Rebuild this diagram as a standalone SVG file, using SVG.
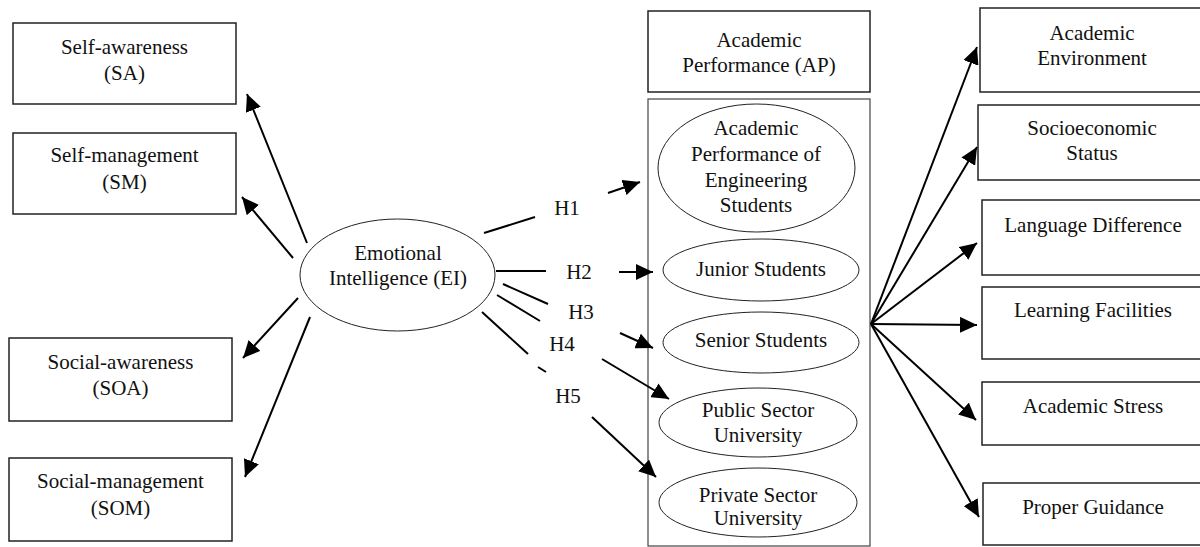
<svg xmlns="http://www.w3.org/2000/svg" width="1200" height="547" viewBox="0 0 1200 547">
<style>
text{font-size:21px;fill:#111;text-anchor:middle}
.box{fill:#fff;stroke:#222;stroke-width:1.5}
.ell{fill:#fff;stroke:#222;stroke-width:1}
.cont{fill:none;stroke:#444;stroke-width:1.2}
.ln{stroke:#000;stroke-width:2;fill:none}
.ar{stroke:#000;stroke-width:2;fill:none;marker-end:url(#ah)}
</style>
<defs>
<marker id="ah" markerUnits="userSpaceOnUse" markerWidth="18" markerHeight="16" refX="17" refY="8" orient="auto">
<path d="M0,0 L17,8 L0,16 z" fill="#000"/>
</marker>
</defs>
<rect width="1200" height="547" fill="#fff"/>
<g font-family="'Liberation Serif', Tinos, 'Times New Roman', 'DejaVu Serif', serif">
<g id="sa"><rect class="box" x="13" y="23" width="223" height="81"/><text x="124.5" y="54">Self-awareness</text><text x="124.5" y="80">(SA)</text></g>
<g id="sm"><rect class="box" x="13" y="133" width="223" height="81"/><text x="124.5" y="162">Self-management</text><text x="124.5" y="189">(SM)</text></g>
<g id="soa"><rect class="box" x="9" y="338" width="223" height="83"/><text x="120.5" y="369">Social-awareness</text><text x="120.5" y="395">(SOA)</text></g>
<g id="som"><rect class="box" x="9" y="458" width="223" height="83"/><text x="120.5" y="488">Social-management</text><text x="120.5" y="515">(SOM)</text></g>

<g id="ei"><ellipse class="ell" cx="397.5" cy="275" rx="97.5" ry="56"/><text x="398" y="260">Emotional</text><text x="398" y="285">Intelligence (EI)</text></g>

<g id="ap"><rect class="box" x="648" y="11" width="222" height="81"/><text x="759" y="47">Academic</text><text x="759" y="72">Performance (AP)</text></g>
<g id="container"><rect class="cont" x="648" y="99" width="222" height="447"/></g>
<g id="eng"><ellipse class="ell" cx="756.5" cy="168" rx="98.5" ry="64"/><text x="756" y="135">Academic</text><text x="756" y="161">Performance of</text><text x="756" y="187">Engineering</text><text x="756" y="212">Students</text></g>
<g id="junior"><ellipse class="ell" cx="761" cy="270" rx="98" ry="31"/><text x="761" y="276">Junior Students</text></g>
<g id="senior"><ellipse class="ell" cx="761" cy="342.5" rx="98" ry="30.5"/><text x="761" y="347">Senior Students</text></g>
<g id="public"><ellipse class="ell" cx="758" cy="422.5" rx="99" ry="34.5"/><text x="758" y="417">Public Sector</text><text x="758" y="442">University</text></g>
<g id="private"><ellipse class="ell" cx="758" cy="502.5" rx="99" ry="34.5"/><text x="758" y="502">Private Sector</text><text x="758" y="525">University</text></g>

<g id="ae"><rect class="box" x="980" y="8" width="230" height="84"/><text x="1092" y="40">Academic</text><text x="1092" y="65">Environment</text></g>
<g id="ses"><rect class="box" x="978" y="105" width="232" height="75"/><text x="1092" y="135">Socioeconomic</text><text x="1092" y="160">Status</text></g>
<g id="ld"><rect class="box" x="982" y="200" width="228" height="75"/><text x="1093" y="232">Language Difference</text></g>
<g id="lf"><rect class="box" x="982" y="287" width="228" height="72"/><text x="1093" y="317">Learning Facilities</text></g>
<g id="as"><rect class="box" x="982" y="382" width="228" height="63"/><text x="1093" y="413">Academic Stress</text></g>
<g id="pg"><rect class="box" x="983" y="483" width="227" height="62"/><text x="1093" y="514">Proper Guidance</text></g>

<g id="labels">
<text x="567" y="215">H1</text>
<text x="579" y="279">H2</text>
<text x="581" y="319">H3</text>
<text x="562" y="351">H4</text>
<text x="568" y="403">H5</text>
</g>
</g>
<g id="connectors">
<line class="ar" x1="307" y1="243" x2="247" y2="94"/>
<line class="ar" x1="293" y1="258" x2="242" y2="197"/>
<line class="ar" x1="298" y1="298" x2="243" y2="358"/>
<line class="ar" x1="310" y1="317" x2="245" y2="477"/>

<line class="ln" x1="484" y1="233" x2="535" y2="217"/>
<line class="ar" x1="608" y1="193" x2="640" y2="182"/>
<line class="ln" x1="496" y1="271" x2="546" y2="271"/>
<line class="ar" x1="619" y1="272" x2="653" y2="272"/>
<line class="ln" x1="503" y1="284" x2="548" y2="304"/>
<line class="ar" x1="620" y1="333" x2="653" y2="348"/>
<line class="ln" x1="497" y1="295" x2="540" y2="321"/>
<line class="ar" x1="602" y1="359" x2="669" y2="399"/>
<line class="ln" x1="482" y1="312" x2="528" y2="354"/>
<line class="ln" x1="538" y1="367" x2="546" y2="372"/>
<line class="ar" x1="592" y1="417" x2="656" y2="477"/>

<line class="ar" x1="871" y1="324" x2="977" y2="47"/>
<line class="ar" x1="871" y1="324" x2="977" y2="147"/>
<line class="ar" x1="871" y1="324" x2="977" y2="243"/>
<line class="ar" x1="871" y1="324" x2="977" y2="325"/>
<line class="ar" x1="871" y1="324" x2="976" y2="420"/>
<line class="ar" x1="871" y1="324" x2="979" y2="517"/>
</g>
</svg>
